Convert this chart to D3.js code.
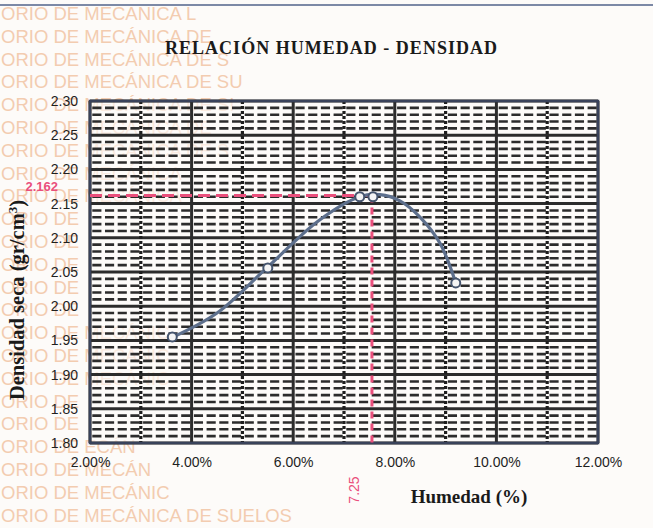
<!DOCTYPE html>
<html>
<head>
<meta charset="utf-8">
<script src="https://cdn.jsdelivr.net/npm/d3@7"></script>
<style>
  body { margin: 0; background: #fdfbf9; }
  svg { display: block; }
</style>
</head>
<body>
<svg width="653" height="528"></svg>
<script>
// data
var humedad = [3.62, 5.50, 7.31, 7.57, 9.20];
var densidad = [1.955, 2.056, 2.160, 2.160, 2.034];
// fitted curve as drawn in the picture (read at several points)
var curveHum = [3.61, 4.50, 5.48, 6.50, 7.31, 7.71, 8.10, 8.50, 8.89, 9.20];
var curveDens = [1.954, 1.990, 2.056, 2.125, 2.160, 2.163, 2.154, 2.130, 2.092, 2.034];
var xTicks = [2, 4, 6, 8, 10, 12];
var yTicks = [1.80, 1.85, 1.90, 1.95, 2.00, 2.05, 2.10, 2.15, 2.20, 2.25, 2.30];
var densMax = 2.162, densLabel = "2.162";
var humOpt = 7.55, humLabel = "7.25";
var watermark = [
  "ORIO DE MECÁNICA L", "ORIO DE MECÁNICA DE", "ORIO DE MECÁNICA DE S",
  "ORIO DE MECÁNICA DE SU", "ORIO DE MECÁNICA DE SI", "ORIO DE MECÁNICA DE",
  "ORIO DE MECÁNICA DE S", "ORIO DE MECÁNICA", "ORIO DE MECÁNICA",
  "ORIO DE", "ORIO DE", "ORIO DE", "ORIO DE", "ORIO DE", "ORIO DE MECÁNIC",
  "ORIO DE MECÁNIC", "ORIO DE MECÁNIC", "ORIO DE", "ORIO DE", "ORIO DE ECÁN",
  "ORIO DE MECÁN", "ORIO DE MECÁNIC", "ORIO DE MECÁNICA DE SUELOS"
];

var svg = d3.select('svg');

// watermark stamp
svg.append('g').selectAll('text')
  .data(watermark)
  .enter().append('text')
  .attr('x', 1)
  .attr('y', function(d, i){ return 20 + i * 22.8; })
  .attr('font-family', 'Liberation Sans, Arial, sans-serif')
  .attr('font-size', 18.5)
  .attr('fill', '#f0bd98')
  .attr('opacity', 0.75)
  .text(function(d){ return d; });

// top rule
svg.append('line')
  .attr('x1', 0).attr('x2', 653).attr('y1', 5).attr('y2', 5)
  .attr('stroke', '#7c89a6').attr('stroke-width', 2);

var x = d3.scaleLinear().domain([2, 12]).range([90, 598]);
var y = d3.scaleLinear().domain([1.80, 2.30]).range([443, 101]);

// plot background, lets the stamp show through faintly
svg.append('rect')
  .attr('x', x(2)).attr('y', y(2.30))
  .attr('width', x(12) - x(2)).attr('height', y(1.80) - y(2.30))
  .attr('fill', '#fdfbf9').attr('opacity', 0.65);

var grid = svg.append('g');
var gridColor = '#2c2c2c';

// minor horizontal lines every 0.01
var minorY = d3.range(1.80, 2.30, 0.01).filter(function(v){
  return Math.round(v * 100) % 5 !== 0;
});
var period = (x(3) - x(2)) / 4;
grid.selectAll('.minor-h')
  .data(minorY)
  .enter().append('line')
  .attr('class', 'minor-h')
  .attr('x1', x(2)).attr('x2', x(12))
  .attr('y1', function(d){ return y(d); })
  .attr('y2', function(d){ return y(d); })
  .attr('stroke', gridColor)
  .attr('stroke-width', 2.6)
  .attr('stroke-dasharray', (period * 0.72) + ',' + (period * 0.28))
  .attr('stroke-dashoffset', -period * 0.18);

// major horizontal lines
grid.selectAll('.major-h')
  .data(yTicks)
  .enter().append('line')
  .attr('x1', x(2)).attr('x2', x(12))
  .attr('y1', function(d){ return y(d); })
  .attr('y2', function(d){ return y(d); })
  .attr('stroke', gridColor)
  .attr('stroke-width', 3);

// odd-percent vertical lines, dotted
grid.selectAll('.odd-v')
  .data(d3.range(3, 12, 2))
  .enter().append('line')
  .attr('x1', function(d){ return x(d); })
  .attr('x2', function(d){ return x(d); })
  .attr('y1', y(2.30)).attr('y2', y(1.80))
  .attr('stroke', '#1e1e1e')
  .attr('stroke-width', 3.2)
  .attr('stroke-dasharray', '3,2');

// major vertical lines
grid.selectAll('.major-v')
  .data(xTicks)
  .enter().append('line')
  .attr('x1', function(d){ return x(d); })
  .attr('x2', function(d){ return x(d); })
  .attr('y1', y(2.30)).attr('y2', y(1.80))
  .attr('stroke', gridColor)
  .attr('stroke-width', 3);

// plot frame
svg.append('rect')
  .attr('x', x(2)).attr('y', y(2.30))
  .attr('width', x(12) - x(2)).attr('height', y(1.80) - y(2.30))
  .attr('fill', 'none')
  .attr('stroke', '#39425a')
  .attr('stroke-width', 2.5);

// axes
var yAxis = d3.axisLeft(y).tickValues(yTicks).tickSize(0).tickPadding(12)
  .tickFormat(d3.format('.2f'));
var xAxis = d3.axisBottom(x).tickValues(xTicks).tickSize(0).tickPadding(14)
  .tickFormat(function(d){ return d.toFixed(2) + '%'; });

var gy = svg.append('g').attr('transform', 'translate(' + x(2) + ',0)').call(yAxis);
var gx = svg.append('g').attr('transform', 'translate(0,' + y(1.80) + ')').call(xAxis);
[gx, gy].forEach(function(g){
  g.select('.domain').remove();
  g.selectAll('text')
    .attr('font-family', 'Liberation Sans, Arial, sans-serif')
    .attr('font-size', 14)
    .attr('fill', '#1f1f1f');
});

// red reference lines
var red = '#ea4f7c';
svg.append('line')
  .attr('x1', x(2)).attr('x2', x(humOpt))
  .attr('y1', y(densMax)).attr('y2', y(densMax))
  .attr('stroke', red).attr('stroke-width', 3)
  .attr('stroke-dasharray', '12,6');
svg.append('line')
  .attr('x1', x(humOpt)).attr('x2', x(humOpt))
  .attr('y1', y(densMax)).attr('y2', y(1.80))
  .attr('stroke', red).attr('stroke-width', 3)
  .attr('stroke-dasharray', '7,5');

svg.append('text')
  .attr('x', 58).attr('y', y(densMax) - 4)
  .attr('text-anchor', 'end')
  .attr('font-family', 'Liberation Sans, Arial, sans-serif')
  .attr('font-size', 13).attr('font-weight', 'bold')
  .attr('fill', red)
  .text(densLabel);

svg.append('text')
  .attr('transform', 'translate(' + (x(humOpt) - 13) + ',490) rotate(-90)')
  .attr('text-anchor', 'middle')
  .attr('font-family', 'Liberation Sans, Arial, sans-serif')
  .attr('font-size', 14)
  .attr('fill', red)
  .text(humLabel);

// fitted curve
var curvePts = curveHum.map(function(h, i){ return [h, curveDens[i]]; });
var line = d3.line()
  .x(function(d){ return x(d[0]); })
  .y(function(d){ return y(d[1]); })
  .curve(d3.curveCatmullRom.alpha(0.5));

svg.append('path')
  .datum(curvePts)
  .attr('d', line)
  .attr('fill', 'none')
  .attr('stroke', '#5d6f8c')
  .attr('stroke-width', 3.2);

// measured points
var pts = humedad.map(function(h, i){ return [h, densidad[i]]; });
svg.selectAll('.pt')
  .data(pts)
  .enter().append('circle')
  .attr('class', 'pt')
  .attr('cx', function(d){ return x(d[0]); })
  .attr('cy', function(d){ return y(d[1]); })
  .attr('r', 4.5)
  .attr('fill', '#f4f4f4')
  .attr('stroke', '#46556e')
  .attr('stroke-width', 2);

// titles
svg.append('text')
  .attr('x', 331).attr('y', 54)
  .attr('text-anchor', 'middle')
  .attr('font-family', 'Liberation Serif, Times New Roman, serif')
  .attr('font-size', 18).attr('font-weight', 'bold')
  .attr('fill', '#1a1a1a')
  .attr('textLength', 332)
  .text('RELACIÓN HUMEDAD - DENSIDAD');

svg.append('text')
  .attr('x', 469).attr('y', 503)
  .attr('text-anchor', 'middle')
  .attr('font-family', 'Liberation Serif, Times New Roman, serif')
  .attr('font-size', 19).attr('font-weight', 'bold')
  .attr('fill', '#1a1a1a')
  .text('Humedad (%)');

var yl = svg.append('text')
  .attr('transform', 'translate(24,300) rotate(-90)')
  .attr('text-anchor', 'middle')
  .attr('font-family', 'Liberation Serif, Times New Roman, serif')
  .attr('font-size', 20.5).attr('font-weight', 'bold')
  .attr('fill', '#1a1a1a');
yl.append('tspan').text('Densidad seca (gr/cm');
yl.append('tspan').attr('baseline-shift', 'super').attr('font-size', 13).text('3');
yl.append('tspan').text(')');
</script>
</body>
</html>
